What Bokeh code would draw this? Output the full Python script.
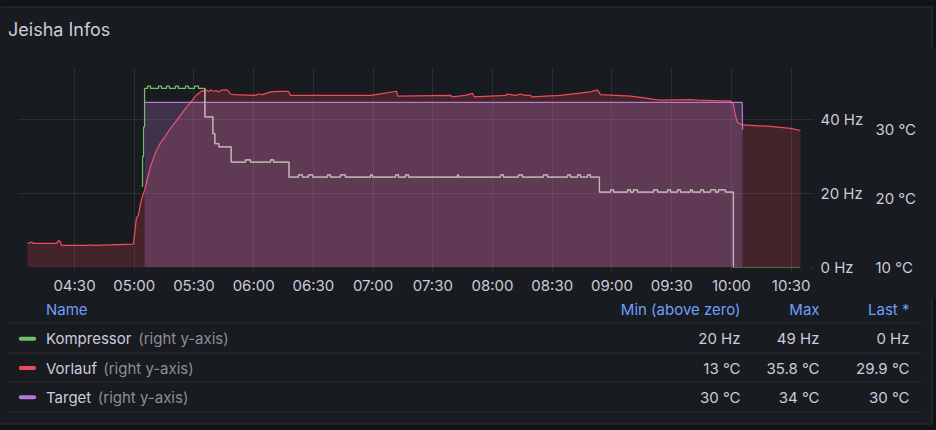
import pandas as pd
from bokeh.plotting import figure
from bokeh.models import (Range1d, LinearAxis, FixedTicker, PrintfTickFormatter,
                          DatetimeTickFormatter, GlobalInlineStyleSheet)
from bokeh.layouts import column
from bokeh.core.properties import value
from bokeh.embed import file_html
from bokeh.resources import INLINE

# ---------------- data ----------------
DAY = "2024-01-15 "
title_text = "Jeisha Infos"

x_tick_labels = ["04:30", "05:00", "05:30", "06:00", "06:30", "07:00", "07:30",
                 "08:00", "08:30", "09:00", "09:30", "10:00", "10:30"]
hz_ticks = [0, 20, 40]
temp_ticks = [10, 20, 30]

vorlauf_time = ["04:06:24", "04:08:24", "04:09:24", "04:21:00", "04:22:00", "04:22:42", "04:23:30",
                "04:37:00", "04:38:00", "04:39:30", "04:59:36", "05:00:24", "05:01:06", "05:02:06",
                "05:03:12", "05:04:12", "05:05:12", "05:06:42", "05:08:12", "05:09:42", "05:11:12",
                "05:13:12", "05:15:42", "05:18:12", "05:20:42", "05:23:12", "05:25:48", "05:28:18",
                "05:30:48", "05:33:18", "05:34:18", "05:35:18", "05:36:18", "05:37:18", "05:38:18",
                "05:39:48", "05:41:18", "05:42:18", "05:44:18", "05:46:24", "05:47:24", "05:48:24",
                "05:49:54", "06:00:54", "06:02:24", "06:04:24", "06:08:30", "06:13:30", "06:17:30",
                "06:18:30", "06:23:30", "06:38:36", "06:59:00", "07:11:48", "07:12:18", "07:38:54",
                "07:39:54", "07:46:24", "07:49:54", "07:50:54", "08:06:30", "08:07:30", "08:11:30",
                "08:14:00", "08:16:36", "08:19:06", "08:19:36", "08:34:06", "08:49:12", "08:52:42",
                "08:54:12", "09:01:48", "09:09:18", "09:14:18", "09:21:54", "09:24:24", "09:39:24",
                "09:43:00", "09:54:30", "09:59:30", "10:01:00", "10:02:00", "10:03:00", "10:05:36",
                "10:19:36", "10:29:42", "10:34:42"]
vorlauf_c = [13.5, 13.7, 13.5, 13.5, 13.9, 13.8, 13.2, 13.2, 13.3, 13.2,
             13.4, 15.4, 17.2, 17.6, 19.3, 20.4, 21.2, 23.0, 24.7, 25.9,
             27.0, 28.1, 29.1, 30.2, 31.1, 32.1, 33.1, 34.0, 34.9, 35.5,
             35.7, 35.5, 35.8, 35.5, 35.8, 35.6, 35.7, 35.5, 35.8, 35.8,
             35.6, 35.2, 35.1, 35.0, 35.2, 35.1, 35.5, 35.6, 35.6, 35.0,
             35.0, 35.0, 35.0, 35.6, 34.9, 35.0, 34.8, 35.0, 35.3, 34.8,
             35.0, 35.2, 35.0, 35.2, 35.0, 35.0, 34.8, 35.0, 35.5, 35.8,
             35.1, 35.0, 34.9, 34.7, 34.4, 34.3, 34.4, 34.3, 34.2, 34.2,
             33.7, 32.1, 31.1, 30.7, 30.5, 30.2, 29.9]

komp_time = ["05:03:42", "05:04:12", "05:04:42", "05:05:12", "05:06:42", "05:08:12", "05:12:12",
             "05:13:42", "05:16:12", "05:17:42", "05:20:42", "05:22:12", "05:25:48", "05:27:18",
             "05:30:18", "05:32:18", "05:35:30", "05:39:30", "05:40:30", "05:42:30", "05:48:42",
             "05:55:54", "05:58:24", "06:08:30", "06:10:00", "06:17:45", "06:22:30", "06:24:30",
             "06:27:30", "06:29:36", "06:37:06", "06:38:36", "06:43:36", "06:46:06", "06:58:42",
             "06:59:42", "07:11:18", "07:12:48", "07:16:18", "07:17:48", "07:42:24", "07:42:54",
             "08:04:00", "08:05:30", "08:13:00", "08:15:00", "08:25:36", "08:27:36", "08:37:42",
             "08:39:12", "08:42:42", "08:44:12", "08:47:42", "08:49:12", "08:53:42", "08:59:18",
             "09:00:48", "09:07:48", "09:09:18", "09:10:48", "09:12:48", "09:20:54", "09:22:54",
             "09:27:54", "09:29:24", "09:32:54", "09:34:24", "09:39:24", "09:40:24", "09:44:30",
             "09:46:00", "09:49:30", "09:52:00", "09:53:30", "09:57:00", "10:01:00", "10:34:42"]
komp_hz = [22, 30, 38, 48.4, 49, 48.4, 49,
           48.4, 49, 48.4, 49, 48.4, 49, 48.4,
           49, 48.4, 40.7, 36.2, 33.5, 32.6, 28.5,
           29.1, 28.5, 29.1, 28.5, 24.4, 25.0, 24.4,
           25.0, 24.4, 25.0, 24.4, 25.0, 24.4, 25.0,
           24.4, 25.0, 24.4, 25.0, 24.4, 25.0, 24.4,
           25.0, 24.4, 25.0, 24.4, 25.0, 24.4, 25.0,
           24.4, 25.0, 24.4, 25.0, 24.4, 20.4, 21.0,
           20.4, 21.0, 20.4, 21.0, 20.4, 21.0, 20.4,
           21.0, 20.4, 21.0, 20.4, 21.0, 20.4, 21.0,
           20.4, 21.0, 20.4, 21.0, 20.4, 0, 0]

target_time = ["05:05:12", "10:05:24", "10:05:36"]
target_c = [34, 34, 30]

series_names = ["Kompressor", "Vorlauf", "Target"]
series_notes = ["(right y-axis)", "(right y-axis)", "(right y-axis)"]
series_colors = ["#73BF69", "#F2495C", "#B877D9"]
stat_headers = ["Min (above zero)", "Max", "Last *"]
stat_min = ["20 Hz", "13 °C", "30 °C"]
stat_max = ["49 Hz", "35.8 °C", "34 °C"]
stat_last = ["0 Hz", "29.9 °C", "30 °C"]

# ---------------- style ----------------
BG = "#181b1f"
OUTER = "#111217"
TXT = "#ccccdc"
TXT2 = "#8d8e9a"
LINK = "#6e9fff"
GRID = "#f0faff"
BORDER = "#2c2f34"
KOMP_UNDER = "#c2b3b6"   # how the compressor line looks where it runs under the fills
FONT = "Inter"
W = 936
PANEL_R = 931


def ts(lst):
    return pd.to_datetime([DAY + t for t in lst])


def panel_fig(h, y_top):
    f = figure(width=W, height=h, x_range=Range1d(0, W), y_range=Range1d(y_top + h, y_top),
               x_axis_location=None, y_axis_location=None, min_border=0, frame_align=False,
               output_backend="svg", toolbar_location=None,
               background_fill_color=BG, border_fill_color=BG, outline_line_color=None)
    f.grid.visible = False
    return f


# ---------------- title ----------------
TH = 48
pt = panel_fig(TH, 0)
pt.quad(left=[0], right=[W], top=[0], bottom=[6], fill_color=OUTER, line_color=None)
pt.quad(left=[PANEL_R + 1], right=[W], top=[0], bottom=[TH], fill_color=OUTER, line_color=None)
pt.segment(x0=[0], x1=[PANEL_R + 1], y0=[6.5], y1=[6.5], line_color=BORDER, line_width=1)
pt.segment(x0=[PANEL_R + 0.5], x1=[PANEL_R + 0.5], y0=[6], y1=[TH], line_color=BORDER, line_width=1)
pt.text(x=[7.5], y=[28.5], text=[title_text], text_font=value(FONT), text_font_size="18px",
        text_color=TXT, text_baseline="middle", text_align="left")

# ---------------- chart ----------------
x_start = pd.Timestamp(DAY + "04:01:22")
x_end = pd.Timestamp(DAY + "10:39:13")
hz_max = 54.05
temp_min, temp_max = 10, 39.05

pc = figure(x_axis_type="datetime", x_range=Range1d(x_start, x_end), y_range=Range1d(0, hz_max),
            frame_width=792, frame_height=200, min_border_left=17, min_border_right=W - 17 - 792,
            min_border_top=19, min_border_bottom=30, y_axis_location="right", frame_align=False,
            output_backend="svg", toolbar_location=None,
            background_fill_color=BG, border_fill_color=BG, outline_line_color=None)
pc.extra_y_ranges = {"temp": Range1d(temp_min, temp_max)}

xa = pc.xaxis[0]
xa.ticker = FixedTicker(ticks=[t.value / 1e6 for t in ts(x_tick_labels)])
xa.formatter = DatetimeTickFormatter(minutes="%H:%M", hourmin="%H:%M", hours="%H:%M")
xa.major_label_standoff = 4

ya = pc.yaxis[0]
ya.ticker = FixedTicker(ticks=hz_ticks)
ya.formatter = PrintfTickFormatter(format="%d Hz")
ya.major_label_standoff = 7

ta = LinearAxis(y_range_name="temp", ticker=FixedTicker(ticks=temp_ticks),
                formatter=PrintfTickFormatter(format="%d °C"))
pc.add_layout(ta, "right")
ta.major_label_standoff = 9

for ax in (xa, ya, ta):
    ax.axis_line_color = None
    ax.minor_tick_line_color = None
    ax.major_tick_in = 0
    ax.major_tick_out = 4
    ax.major_tick_line_color = GRID
    ax.major_tick_line_alpha = 0.09
    ax.major_label_text_font = FONT
    ax.major_label_text_font_size = "15px"
    ax.major_label_text_color = TXT
ta.major_tick_out = 0

pc.grid.grid_line_color = GRID
pc.grid.grid_line_alpha = 0.09

kt = ts(komp_time)
pc.step(kt, komp_hz, mode="after", line_color=series_colors[0], line_width=1.25)

vt = ts(vorlauf_time)
pc.varea(x=vt, y1=temp_min, y2=vorlauf_c, fill_color=series_colors[1], fill_alpha=0.2,
         y_range_name="temp")
pc.line(vt, vorlauf_c, line_color=series_colors[1], line_width=1.25, y_range_name="temp")

tt = ts(target_time)
pc.varea(x=tt, y1=temp_min, y2=target_c, fill_color=series_colors[2], fill_alpha=0.25,
         y_range_name="temp")
pc.line(tt, target_c, line_color=series_colors[2], line_width=1.25, y_range_name="temp")

# compressor trace where it lies beneath the temperature fills (after the first drop,
# up to the switch-off; the zero tail stays hidden at the frame edge)
drop = next(i for i in range(1, len(komp_hz)) if komp_hz[i] < komp_hz[i - 1] - 5)
off = next(i for i in range(len(komp_hz)) if komp_hz[i] == 0)
kx2 = [kt[drop]] + list(kt[drop:off + 1])
ky2 = [komp_hz[drop - 1]] + komp_hz[drop:off + 1]
pc.step(kx2, ky2, mode="after", line_color=KOMP_UNDER, line_width=1.25)

# ---------------- legend table ----------------
LT = TH + 19 + 200 + 30
LH = 430 - LT
pl = panel_fig(LH, LT)
pl.quad(left=[0], right=[W], top=[424], bottom=[430], fill_color=OUTER, line_color=None)
pl.quad(left=[PANEL_R + 1], right=[W], top=[LT], bottom=[430], fill_color=OUTER, line_color=None)
pl.segment(x0=[PANEL_R + 0.5], x1=[PANEL_R + 0.5], y0=[LT], y1=[424], line_color=BORDER,
           line_width=1)

header_y = 309
row_y0, row_h = 338.3, 29.2
name_x = 45.5
note_x = [137.7, 102.7, 97.3]
stat_right = [740, 819, 909]
sep_y = [322.5, 352.5, 381.5, 411.5]

pl.text(x=[name_x], y=[header_y], text=["Name"], text_font=value(FONT), text_font_size="15px",
        text_color=LINK, text_baseline="middle", text_align="left")
pl.text(x=stat_right, y=[header_y] * 3, text=stat_headers, text_font=value(FONT),
        text_font_size="15px", text_color=LINK, text_baseline="middle", text_align="right")
pl.segment(x0=[8] * 4, x1=[921] * 4, y0=sep_y, y1=sep_y, line_color=BORDER, line_width=1)
pl.segment(x0=[0], x1=[PANEL_R + 1], y0=[423.5], y1=[423.5], line_color=BORDER, line_width=1)

rows_y = [row_y0 + i * row_h for i in range(len(series_names))]
pl.segment(x0=[20.3] * 3, x1=[33.7] * 3, y0=rows_y, y1=rows_y, line_color=series_colors,
           line_width=4, line_cap="round")
pl.text(x=[name_x] * 3, y=rows_y, text=series_names, text_font=value(FONT), text_font_size="15px",
        text_color=TXT, text_baseline="middle", text_align="left")
pl.text(x=note_x, y=rows_y, text=series_notes, text_font=value(FONT), text_font_size="15px",
        text_color=TXT2, text_baseline="middle", text_align="left")
for sx, vals in zip(stat_right, (stat_min, stat_max, stat_last)):
    pl.text(x=[sx] * 3, y=rows_y, text=vals, text_font=value(FONT), text_font_size="15px",
            text_color=TXT, text_baseline="middle", text_align="right")

layout = column(pt, pc, pl, spacing=0)
layout.stylesheets = [GlobalInlineStyleSheet(css="html, body { background-color: #181b1f; }")]

open("out.html", "w").write(file_html(layout, INLINE))
